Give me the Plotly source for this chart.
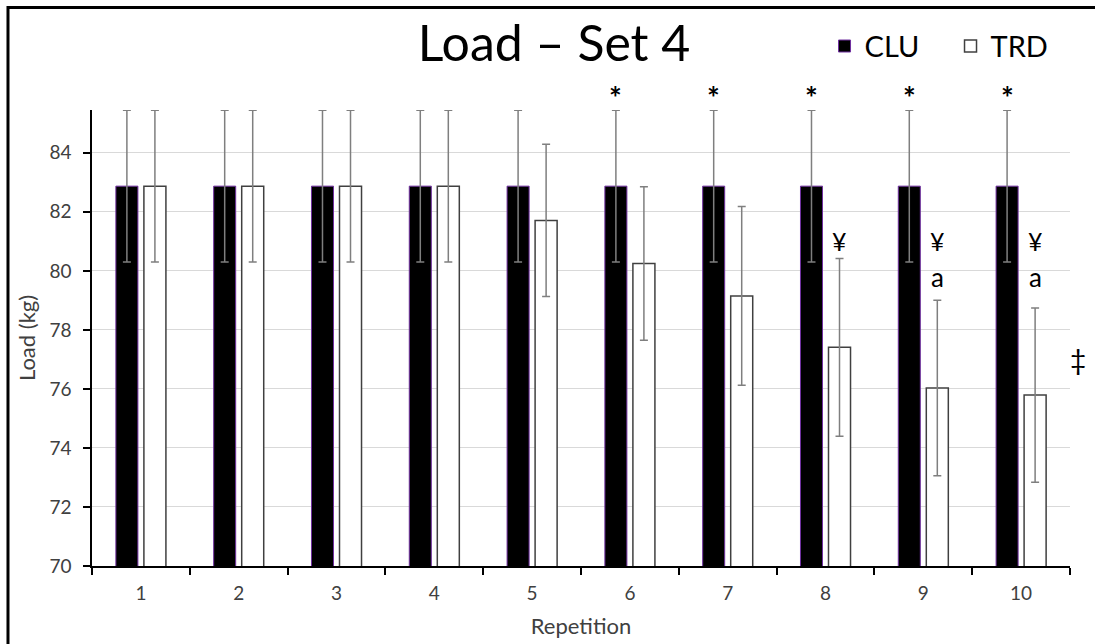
import plotly.graph_objects as go

# ---- data ----
repetitions = ["1", "2", "3", "4", "5", "6", "7", "8", "9", "10"]
clu_load = [82.87, 82.87, 82.87, 82.87, 82.87, 82.87, 82.87, 82.87, 82.87, 82.87]
clu_sd = [2.57, 2.57, 2.57, 2.57, 2.57, 2.57, 2.57, 2.57, 2.57, 2.57]
trd_load = [82.87, 82.87, 82.87, 82.87, 81.71, 80.25, 79.15, 77.41, 76.03, 75.79]
trd_sd = [2.57, 2.57, 2.57, 2.57, 2.58, 2.60, 3.03, 3.01, 2.97, 2.95]

star_reps = ["6", "7", "8", "9", "10"]      # * : CLU vs TRD
yen_reps = ["8", "9", "10"]                 # ¥
a_reps = ["9", "10"]                        # a
y_ticks = [70, 72, 74, 76, 78, 80, 82, 84]

FONT = "Lato, 'Open Sans', sans-serif"
Y_MIN, Y_MAX = 70, 85.45

fig = go.Figure()
fig.add_trace(go.Bar(
    name="CLU", x=repetitions, y=clu_load,
    marker=dict(color="black", line=dict(color="#7030A0", width=1)),
    error_y=dict(type="data", array=clu_sd, color="#7f7f7f", thickness=1.5, width=4),
))
fig.add_trace(go.Bar(
    name="TRD", x=repetitions, y=trd_load,
    marker=dict(color="white", line=dict(color="#404040", width=1.5)),
    error_y=dict(type="data", array=trd_sd, color="#7f7f7f", thickness=1.5, width=4),
))

ann = []
idx = {r: i for i, r in enumerate(repetitions)}
for r in star_reps:
    i = idx[r]
    ann.append(dict(x=i, y=clu_load[i] + clu_sd[i], xref="x", yref="y", text="<b>*</b>",
                    showarrow=False, xshift=-14, yshift=13, yanchor="middle",
                    font=dict(family=FONT, size=30, color="black")))
for r in yen_reps:
    ann.append(dict(x=idx[r], y=81.0, xref="x", yref="y", text="¥", showarrow=False,
                    xshift=14, yanchor="middle",
                    font=dict(family=FONT, size=25, color="black")))
for r in a_reps:
    ann.append(dict(x=idx[r], y=79.8, xref="x", yref="y", text="a", showarrow=False,
                    xshift=14, yanchor="middle",
                    font=dict(family=FONT, size=26, color="black")))
ann.append(dict(x=1.008, y=77.0, xref="paper", yref="y", text="‡", showarrow=False,
                xanchor="center", yanchor="middle",
                font=dict(family=FONT, size=28, color="black")))

fig.update_layout(
    width=1095, height=644,
    margin=dict(l=92, r=25, t=110, b=78, autoexpand=False),
    paper_bgcolor="white", plot_bgcolor="white",
    font=dict(family=FONT, color="#404040"),
    title=dict(text="Load – Set 4", x=0.506, xanchor="center", y=0.932, yanchor="middle",
               font=dict(family=FONT, size=50, color="black")),
    barmode="group", bargap=0.427, bargroupgap=0.214,
    showlegend=True,
    legend=dict(orientation="h", x=0.749, xanchor="left", y=1.14, yanchor="middle",
                font=dict(family=FONT, size=29, color="black"),
                bgcolor="rgba(0,0,0,0)", itemwidth=30, traceorder="normal",
                entrywidth=81, entrywidthmode="pixels"),
    xaxis=dict(
        title=dict(text="Repetition", font=dict(family=FONT, size=22, color="#404040"), standoff=16),
        showline=True, linecolor="black", linewidth=1.5,
        ticks="outside", tickson="boundaries", ticklen=7, tickcolor="black", tickwidth=1.5,
        tickfont=dict(family=FONT, size=19, color="#404040"), ticklabelstandoff=9,
        showgrid=False,
    ),
    yaxis=dict(
        title=dict(text="Load (kg)", font=dict(family=FONT, size=22, color="#404040"), standoff=8),
        range=[Y_MIN, Y_MAX], tickvals=y_ticks,
        showline=True, linecolor="black", linewidth=1.5,
        ticks="outside", ticklen=7, tickcolor="black", tickwidth=1.5,
        tickfont=dict(family=FONT, size=19, color="#404040"), ticklabelstandoff=8,
        showgrid=True, gridcolor="#d9d9d9", gridwidth=1, zeroline=False,
    ),
    annotations=ann,
    shapes=[dict(type="rect", xref="paper", yref="paper",
                 x0=-0.0859, x1=1.05, y0=-0.22, y1=1.2248,
                 line=dict(color="black", width=3), fillcolor="rgba(0,0,0,0)", layer="above")],
)

fig.write_html("out.html")
